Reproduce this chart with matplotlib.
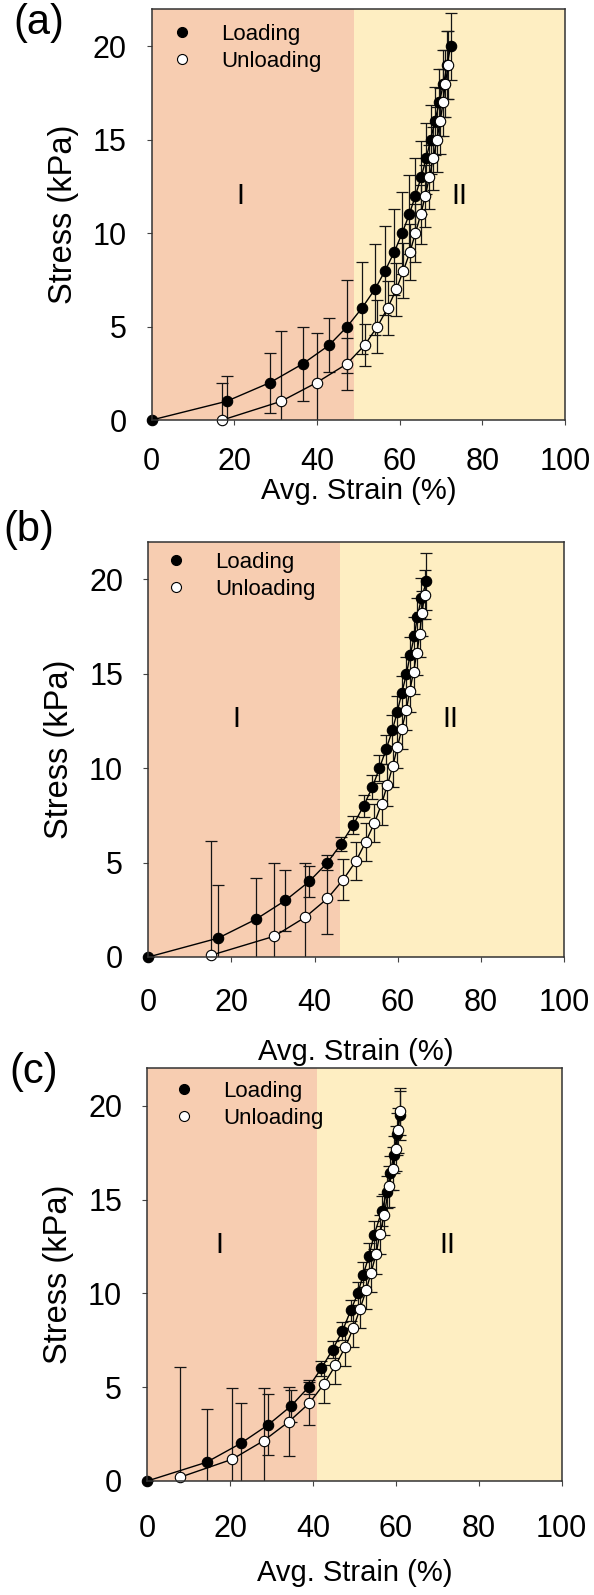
import matplotlib
matplotlib.use("Agg")
import matplotlib.pyplot as plt
from matplotlib.lines import Line2D

plt.rcParams['font.family'] = ['Liberation Sans', 'DejaVu Sans']

# ---------------- data ----------------
panel_labels = ["(a)", "(b)", "(c)"]
region_boundary = [49, 46, 41]   # strain (%) separating region I / II

# Panel (a)
a_load_strain = [0, 18.1, 28.6, 36.5, 42.9, 47.3, 50.9, 54.0, 56.5, 58.7, 60.6,
                 62.3, 63.8, 65.2, 66.4, 67.5, 68.5, 69.6, 70.6, 71.5, 72.3]
a_load_stress = [0, 1, 2, 3, 4, 5, 6, 7, 8, 9, 10, 11, 12, 13, 14, 15, 16, 17, 18, 19, 20]
a_load_err = [0, 1.35, 1.6, 2.0, 1.45, 2.5, 2.45, 2.43, 2.4, 2.3, 2.2,
              2.1, 2.0, 1.95, 1.9, 1.85, 1.8, 1.8, 1.8, 1.8, 1.8]
a_unload_strain = [17.1, 31.3, 39.9, 47.2, 51.5, 54.6, 57.1, 59.2, 60.9, 62.5,
                   63.8, 65.1, 66.2, 67.2, 68.1, 69.0, 69.8, 70.5, 71.0, 71.8]
a_unload_stress = [0, 1, 2, 3, 4, 5, 6, 7, 8, 9, 10, 11, 12, 13, 14, 15, 16, 17, 18, 19]
a_unload_err = [2.0, 3.75, 2.65, 1.38, 1.13, 1.43, 1.43, 1.43, 1.45, 1.5,
                1.55, 1.6, 1.65, 1.7, 1.7, 1.75, 1.75, 1.8, 1.8, 1.8]

# Panel (b)
b_load_strain = [0, 16.8, 25.9, 33.0, 38.7, 43.1, 46.4, 49.3, 51.8, 53.9, 55.6,
                 57.2, 58.7, 59.9, 61.0, 62.1, 63.0, 64.0, 64.7, 65.7, 66.9]
b_load_stress = [0, 1, 2, 3, 4, 5, 6, 7, 8, 9, 10, 11, 12, 13, 14, 15, 16, 17, 18, 19, 19.9]
b_load_err = [0, 2.84, 2.19, 1.63, 0.83, 0.4, 0.36, 0.46, 0.57, 0.65, 0.7,
              0.75, 0.8, 0.85, 0.9, 0.9, 0.95, 1.0, 1.0, 1.1, 1.5]
b_unload_strain = [15.2, 30.3, 37.7, 43.1, 46.9, 50.0, 52.3, 54.4, 56.1, 57.5,
                   58.8, 59.9, 61.0, 62.1, 62.9, 63.8, 64.6, 65.3, 65.8, 66.5]
b_unload_stress = [0.1, 1.1, 2.1, 3.1, 4.1, 5.1, 6.1, 7.1, 8.1, 9.1,
                   10.1, 11.1, 12.1, 13.1, 14.1, 15.1, 16.1, 17.1, 18.2, 19.2]
b_unload_err = [6.05, 3.9, 2.9, 1.88, 1.1, 1.0, 1.0, 1.0, 1.1, 1.1,
                1.1, 1.1, 1.1, 1.1, 1.1, 1.15, 1.15, 1.2, 1.2, 1.3]

# Panel (c)
c_load_strain = [0, 14.3, 22.5, 29.2, 34.7, 38.9, 42.0, 44.7, 47.1, 49.1,
                 50.8, 52.1, 53.5, 54.7, 56.6, 57.8, 58.6, 59.5, 60.3, 61.0]
c_load_stress = [0, 1, 2, 3, 4, 5, 6, 7, 8.0, 9.1,
                 10.0, 11.0, 12.0, 13.1, 14.4, 15.4, 16.4, 17.4, 18.5, 19.5]
c_load_err = [0, 2.84, 2.16, 1.64, 0.86, 0.36, 0.4, 0.45, 0.5, 0.55,
              0.6, 0.65, 0.7, 0.75, 0.8, 0.85, 0.9, 1.0, 1.1, 1.3]
c_unload_strain = [7.9, 20.5, 28.1, 34.2, 39.1, 42.6, 45.4, 47.8, 49.7, 51.3,
                   52.8, 54.0, 55.2, 56.1, 57.2, 58.3, 59.2, 59.9, 60.4, 61.0]
c_unload_stress = [0.2, 1.16, 2.15, 3.17, 4.15, 5.16, 6.16, 7.15, 8.15, 9.15,
                   10.16, 11.1, 12.1, 13.15, 14.2, 15.7, 16.65, 17.7, 18.7, 19.7]
c_unload_err = [5.9, 3.8, 2.8, 1.85, 1.15, 1.0, 1.0, 1.0, 1.0, 1.0,
                1.0, 1.0, 1.05, 1.05, 1.1, 1.1, 1.15, 1.2, 1.2, 1.25]

x_ticks = [0, 20, 40, 60, 80, 100]
y_ticks = [0, 5, 10, 15, 20]
x_label = "Avg. Strain (%)"
y_label = "Stress (kPa)"
legend_labels = ["Loading", "Unloading"]
region_labels = ["I", "II"]

panels = [
    (a_load_strain, a_load_stress, a_load_err, a_unload_strain, a_unload_stress, a_unload_err),
    (b_load_strain, b_load_stress, b_load_err, b_unload_strain, b_unload_stress, b_unload_err),
    (c_load_strain, c_load_stress, c_load_err, c_unload_strain, c_unload_stress, c_unload_err),
]

# ---------------- layout ----------------
W, H = 594, 1595
fig = plt.figure(figsize=(W / 100, H / 100), dpi=100)

# axes boxes in pixels: left, right, top, bottom
boxes = [(151.7, 565, 9, 420), (148.3, 564, 541.7, 957), (147.3, 561.7, 1068.3, 1481)]
region_text_pos = [((21.4, 12.0), (74.4, 12.0)), ((21.1, 12.6), (72.6, 12.6)), ((17.5, 12.6), (72.4, 12.6))]
legend_anchor = [(0.0457, 0.963), (0.040, 0.975), (0.0625, 0.969)]
xtick_pad = [15.8, 19.0, 20.2]
xlabel_y = [-0.139, -0.195, -0.189]
panel_label_pos = [(0.022, 0.9856), (0.006, 0.668), (0.016, 0.328)]

peach = "#F7CDB1"
yellow = "#FEEEC2"

for i, (ls, lst, le, us, ust, ue) in enumerate(panels):
    l, r, t, b = boxes[i]
    ax = fig.add_axes([l / W, 1 - b / H, (r - l) / W, (b - t) / H])
    ax.axvspan(0, region_boundary[i], color=peach, zorder=0, lw=0)
    ax.axvspan(region_boundary[i], 100, color=yellow, zorder=0, lw=0)

    ax.errorbar(ls, lst, yerr=le, fmt='none', ecolor='#151515', elinewidth=0.9,
                capsize=4, capthick=0.9, zorder=2)
    ax.errorbar(us, ust, yerr=ue, fmt='none', ecolor='#151515', elinewidth=0.9,
                capsize=4, capthick=0.9, zorder=2)
    ax.plot(ls, lst, '-o', color='black', lw=1.0, ms=7.5, mfc='black', mec='black',
            mew=0.8, zorder=3, clip_on=False)
    ax.plot(us, ust, '-o', color='black', lw=1.0, ms=7.5, mfc='white', mec='black',
            mew=0.8, zorder=4, clip_on=False)

    ax.set_xlim(0, 100)
    ax.set_ylim(0, 22)
    ax.set_xticks(x_ticks)
    ax.set_yticks(y_ticks)
    ax.tick_params(axis='both', direction='out', length=3.6, width=0.8, color='#444444',
                   labelsize=22, top=False, right=False)
    ax.tick_params(axis='x', pad=xtick_pad[i])
    ax.tick_params(axis='y', pad=14.5)
    for sp in ax.spines.values():
        sp.set_linewidth(1.1)
        sp.set_color('#333333')
        sp.set_zorder(5)

    ax.set_xlabel(x_label, fontsize=21)
    ax.xaxis.set_label_coords(0.5, xlabel_y[i])
    ax.set_ylabel(y_label, fontsize=23.5)
    ax.yaxis.set_label_coords(-0.176, 0.5)
    ax.yaxis.label.set_va('bottom')

    (x1, y1), (x2, y2) = region_text_pos[i]
    ax.text(x1, y1, region_labels[0], fontsize=21, ha='center', va='center', zorder=6)
    ax.text(x2, y2, region_labels[1], fontsize=21, ha='center', va='center', zorder=6)

    handles = [Line2D([], [], marker='o', ls='none', mfc='black', mec='black', ms=7.2, mew=0.8),
               Line2D([], [], marker='o', ls='none', mfc='white', mec='black', ms=7.2, mew=0.8)]
    leg = ax.legend(handles, legend_labels, loc='upper left', bbox_to_anchor=legend_anchor[i],
                    frameon=False, fontsize=16, handlelength=1.0, handletextpad=1.26,
                    labelspacing=0.26, borderaxespad=0, borderpad=0)
    leg.set_zorder(7)

    fx, fy = panel_label_pos[i]
    fig.text(fx, fy, panel_labels[i], fontsize=30, ha='left', va='center')

fig.savefig("out.png", dpi=100)
